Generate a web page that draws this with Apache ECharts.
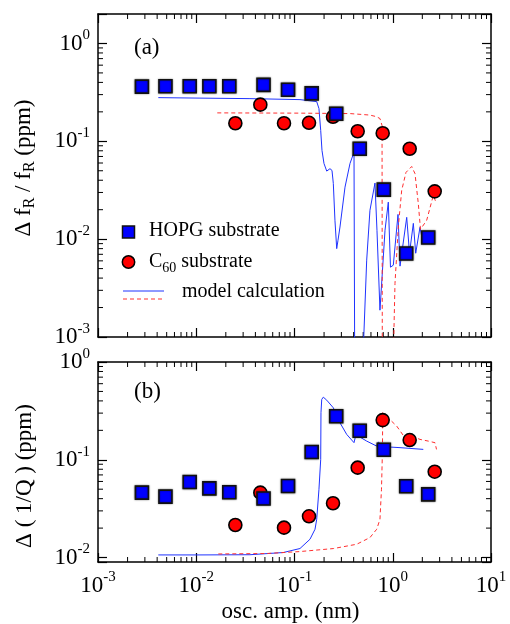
<!DOCTYPE html>
<html>
<head>
<meta charset="utf-8">
<script src="https://cdn.jsdelivr.net/npm/echarts@6/dist/echarts.min.js"></script>
<style>
  html, body { margin: 0; padding: 0; background: #fff; }
  #main { width: 510px; height: 624px; }
</style>
</head>
<body>
<div id="main"></div>
<script>
// measured points (osc. amp. in nm, shifts in ppm)
var xHopg = [0.0028, 0.00486, 0.00858, 0.0136, 0.0217, 0.0484, 0.0859, 0.1496, 0.2657, 0.461, 0.811, 1.371, 2.296];
var hopgFreq = [0.362, 0.365, 0.365, 0.365, 0.365, 0.377, 0.337, 0.309, 0.191, 0.0839, 0.0321, 0.00713, 0.01038];
var hopgDiss = [0.0461, 0.0420, 0.0592, 0.0510, 0.0465, 0.0401, 0.0539, 0.1199, 0.279, 0.198, 0.1268, 0.0535, 0.0443];

var xC60 = [0.0250, 0.0449, 0.0782, 0.1405, 0.2466, 0.4396, 0.790, 1.487, 2.673];
var c60Freq = [0.1529, 0.237, 0.1529, 0.1545, 0.178, 0.1268, 0.121, 0.0839, 0.0308];
var c60Diss = [0.0215, 0.0461, 0.0202, 0.0264, 0.0359, 0.0830, 0.2545, 0.159, 0.0755];

// model calculation curves
var modelHopgFreqX = [0.00411, 0.01091, 0.0352, 0.1137, 0.1683, 0.1774, 0.1848, 0.1905, 0.1995, 0.2128, 0.2297, 0.2408, 0.2484, 0.258, 0.2689, 0.2772, 0.2903, 0.3266, 0.3673, 0.4033, 0.410, 0.494, 0.543, 0.586, 0.659, 0.691, 0.741, 0.834, 0.901, 0.948, 1.013, 1.131, 1.186, 1.387, 1.481, 1.62, 1.713, 1.893, 1.971];
var modelHopgFreqY = [0.2795, 0.2763, 0.273, 0.2667, 0.2544, 0.216, 0.129, 0.0806, 0.0594, 0.0496, 0.0525, 0.0504, 0.0371, 0.0156, 0.0080, 0.00975, 0.0133, 0.0340, 0.0594, 0.0774, 0.0005, 0.0005, 0.0061, 0.0197, 0.0374, 0.0123, 0.00188, 0.0123, 0.0239, 0.00517, 0.00542, 0.0179, 0.0053, 0.0167, 0.00718, 0.0145, 0.00718, 0.0132, 0.0107];

var modelC60FreqX = [0.01637, 0.1137, 0.3673, 0.586, 0.675, 0.741, 0.778, 0.783, 1.013, 1.030, 1.054, 1.139, 1.233, 1.364, 1.559, 1.685, 1.820, 1.916, 2.216, 2.587, 2.754];
var modelC60FreqY = [0.1952, 0.194, 0.192, 0.1854, 0.179, 0.171, 0.145, 0.0005, 0.0005, 0.00127, 0.00353, 0.0133, 0.0315, 0.0481, 0.0553, 0.0467, 0.0231, 0.0126, 0.0156, 0.0280, 0.0238];

var modelHopgDissX = [0.00411, 0.01091, 0.0352, 0.0769, 0.1137, 0.1438, 0.1617, 0.1683, 0.1774, 0.1848, 0.186, 0.1893, 0.1964, 0.2128, 0.2484, 0.2903, 0.340, 0.4033, 0.4227, 0.446, 0.543, 0.6865, 0.7129, 0.754, 0.937, 1.186, 2.046];
var modelHopgDissY = [0.01063, 0.01063, 0.01068, 0.01125, 0.01236, 0.01538, 0.01945, 0.0246, 0.0499, 0.1010, 0.303, 0.414, 0.437, 0.407, 0.340, 0.239, 0.1817, 0.1496, 0.1817, 0.1746, 0.1552, 0.138, 0.1517, 0.1436, 0.1349, 0.1330, 0.1277];

var modelC60DissX = [0.01677, 0.0521, 0.1137, 0.2484, 0.4295, 0.586, 0.6865, 0.741, 0.768, 0.786, 0.790, 1.097, 1.280, 1.498, 1.685, 1.893, 2.301, 2.692, 2.788];
var modelC60DissY = [0.01088, 0.01099, 0.01151, 0.01235, 0.01367, 0.0160, 0.01946, 0.0246, 0.0499, 0.1277, 0.303, 0.221, 0.1775, 0.1616, 0.1694, 0.1616, 0.1552, 0.1495, 0.1277];

// axis ranges and minor tick positions
var xRange = [0.001, 10];
var yRangeA = [0.001, 2];
var yRangeB = [0.009, 1];
var decades = [0.001, 0.01, 0.1, 1];
var mults = [2, 3, 4, 5, 6, 7, 8, 9];

var FONT = 'Liberation Serif';

function zip(xs, ys) {
    return xs.map(function (x, i) { return [x, ys[i]]; });
}

function minorList(lo, hi) {
    var out = [];
    decades.forEach(function (d) {
        mults.forEach(function (m) {
            var v = d * m;
            if (v > lo * 1.0001 && v < hi * 0.9999) out.push(v);
        });
    });
    return out;
}

function powLabel(v) {
    var e = Math.log10(v);
    var r = Math.round(e);
    if (Math.abs(e - r) > 1e-6) return '';
    return '{b|10}{s|' + r + '}';
}

var labelRich = {
    b: { fontFamily: FONT, fontSize: 23, color: '#000' },
    s: { fontFamily: FONT, fontSize: 15, color: '#000', padding: [0, 0, 16, 0] }
};

function xAx(grid, pos, showLabel, name) {
    var a = {
        type: 'log', logBase: 10, gridIndex: grid, position: pos,
        min: xRange[0], max: xRange[1],
        axisLine: { show: true, onZero: false, lineStyle: { color: '#000', width: 1.5 } },
        axisTick: { show: true, inside: true, length: 9, lineStyle: { color: '#000', width: 1.2 } },
        splitLine: { show: false },
        axisLabel: { show: showLabel, margin: 8, formatter: powLabel, rich: labelRich, showMinLabel: true, showMaxLabel: true }
    };
    if (name) {
        a.name = name;
        a.nameLocation = 'middle';
        a.nameGap = 38;
        a.nameTextStyle = { fontFamily: FONT, fontSize: 23, color: '#000', padding: [0, 8, 0, 0] };
    }
    return a;
}

function yAx(grid, pos, range, showLabel) {
    return {
        type: 'log', logBase: 10, gridIndex: grid, position: pos,
        min: range[0], max: range[1],
        axisLine: { show: true, onZero: false, lineStyle: { color: '#000', width: 1.5 } },
        axisTick: { show: true, inside: true, length: 9, lineStyle: { color: '#000', width: 1.2 } },
        splitLine: { show: false },
        axisLabel: { show: showLabel, margin: 8, formatter: powLabel, rich: labelRich }
    };
}

// minor ticks drawn through the axes' own scales
function xMinorSeries(xi, yi, yr) {
    return {
        type: 'custom', xAxisIndex: xi, yAxisIndex: yi, silent: true, clip: false, z: 1,
        data: minorList(xRange[0], xRange[1]).map(function (v) { return [v, yr[0]]; }),
        renderItem: function (params, api) {
            var v = api.value(0);
            var b = api.coord([v, yr[0]]);
            var t = api.coord([v, yr[1]]);
            var st = { stroke: '#000', lineWidth: 1 };
            return { type: 'group', children: [
                { type: 'line', shape: { x1: b[0], y1: b[1], x2: b[0], y2: b[1] - 5 }, style: st },
                { type: 'line', shape: { x1: t[0], y1: t[1], x2: t[0], y2: t[1] + 5 }, style: st }
            ] };
        }
    };
}

function yMinorSeries(xi, yi, yr) {
    return {
        type: 'custom', xAxisIndex: xi, yAxisIndex: yi, silent: true, clip: false, z: 1,
        data: minorList(yr[0], yr[1]).map(function (v) { return [xRange[0], v]; }),
        renderItem: function (params, api) {
            var v = api.value(1);
            var l = api.coord([xRange[0], v]);
            var r = api.coord([xRange[1], v]);
            var st = { stroke: '#000', lineWidth: 1 };
            return { type: 'group', children: [
                { type: 'line', shape: { x1: l[0], y1: l[1], x2: l[0] + 5, y2: l[1] }, style: st },
                { type: 'line', shape: { x1: r[0], y1: r[1], x2: r[0] - 5, y2: r[1] }, style: st }
            ] };
        }
    };
}

var blue = '#0000ff';
var red = '#ff0000';
var lineBlue = '#1f33ff';
var lineRed = '#ff3030';

function model(xi, yi, xs, ys, color, dashed) {
    return {
        type: 'line', xAxisIndex: xi, yAxisIndex: yi, data: zip(xs, ys),
        showSymbol: false, silent: true, clip: true, z: 2,
        lineStyle: { color: color, width: 1, type: dashed ? [4, 3] : 'solid' }
    };
}

function squares(xi, yi, ys) {
    return {
        type: 'scatter', xAxisIndex: xi, yAxisIndex: yi, data: zip(xHopg, ys),
        symbol: 'rect', symbolSize: 13, z: 4,
        itemStyle: { color: blue, opacity: 1, borderColor: '#111', borderWidth: 1.6, shadowBlur: 2, shadowColor: 'rgba(0,0,0,0.45)' }
    };
}

function circles(xi, yi, ys) {
    return {
        type: 'scatter', xAxisIndex: xi, yAxisIndex: yi, data: zip(xC60, ys),
        symbol: 'circle', symbolSize: 13, z: 3,
        itemStyle: { color: red, opacity: 1, borderColor: '#000', borderWidth: 1.6 }
    };
}

var myChart = echarts.init(document.getElementById('main'));

var option = {
    backgroundColor: '#fff',
    animation: false,
    grid: [
        { left: 98, top: 14, width: 393, height: 323 },
        { left: 98, top: 362, width: 393, height: 200 }
    ],
    xAxis: [
        xAx(0, 'bottom', false),
        xAx(0, 'top', false),
        xAx(1, 'bottom', true, 'osc. amp. (nm)'),
        xAx(1, 'top', false)
    ],
    yAxis: [
        yAx(0, 'left', yRangeA, true),
        yAx(0, 'right', yRangeA, false),
        yAx(1, 'left', yRangeB, true),
        yAx(1, 'right', yRangeB, false)
    ],
    series: [
        xMinorSeries(0, 0, yRangeA),
        yMinorSeries(0, 0, yRangeA),
        xMinorSeries(2, 2, yRangeB),
        yMinorSeries(2, 2, yRangeB),
        model(0, 0, modelHopgFreqX, modelHopgFreqY, lineBlue, false),
        model(0, 0, modelC60FreqX, modelC60FreqY, lineRed, true),
        model(2, 2, modelHopgDissX, modelHopgDissY, lineBlue, false),
        model(2, 2, modelC60DissX, modelC60DissY, lineRed, true),
        circles(0, 0, c60Freq),
        squares(0, 0, hopgFreq),
        circles(2, 2, c60Diss),
        squares(2, 2, hopgDiss)
    ],
    graphic: [
        // y axis titles
        { type: 'text', x: 24, y: 168, rotation: Math.PI / 2,
          style: { text: '{n|\u0394 f}{r|R}{n| / f}{r|R}{n| (ppm)}', align: 'center', verticalAlign: 'middle',
                   rich: { n: { fontFamily: FONT, fontSize: 23, fill: '#000' },
                           r: { fontFamily: FONT, fontSize: 16, fill: '#000', padding: [12, 0, 0, 0] } } } },
        { type: 'text', x: 25, y: 476, rotation: Math.PI / 2,
          style: { text: '\u0394 ( 1/Q ) (ppm)', align: 'center', verticalAlign: 'middle',
                   font: '23px "Liberation Serif"', fill: '#000' } },
        // panel labels
        { type: 'text', x: 134, y: 48, style: { text: '(a)', verticalAlign: 'middle', font: '23px "Liberation Serif"', fill: '#000' } },
        { type: 'text', x: 134, y: 392, style: { text: '(b)', verticalAlign: 'middle', font: '23px "Liberation Serif"', fill: '#000' } },
        // legend
        { type: 'rect', shape: { x: 122.5, y: 226, width: 12, height: 12 },
          style: { fill: blue, stroke: '#111', lineWidth: 1.5 } },
        { type: 'text', x: 149, y: 231, style: { text: 'HOPG substrate', verticalAlign: 'middle', font: '20px "Liberation Serif"', fill: '#000' } },
        { type: 'circle', shape: { cx: 128.5, cy: 262, r: 6.2 },
          style: { fill: red, stroke: '#000', lineWidth: 1.5 } },
        { type: 'text', x: 149, y: 262,
          style: { text: '{n|C}{s|60}{n| substrate}', verticalAlign: 'middle',
                   rich: { n: { fontFamily: FONT, fontSize: 20, fill: '#000' },
                           s: { fontFamily: FONT, fontSize: 14, fill: '#000', padding: [12, 0, 0, 0] } } } },
        { type: 'line', shape: { x1: 123, y1: 291, x2: 164, y2: 291 }, style: { stroke: lineBlue, lineWidth: 1 } },
        { type: 'line', shape: { x1: 123, y1: 299, x2: 164, y2: 299 }, style: { stroke: lineRed, lineWidth: 1.2, lineDash: [4, 3] } },
        { type: 'text', x: 182, y: 292, style: { text: 'model calculation', verticalAlign: 'middle', font: '20px "Liberation Serif"', fill: '#000' } }
    ]
};

myChart.setOption(option);
</script>
</body>
</html>
